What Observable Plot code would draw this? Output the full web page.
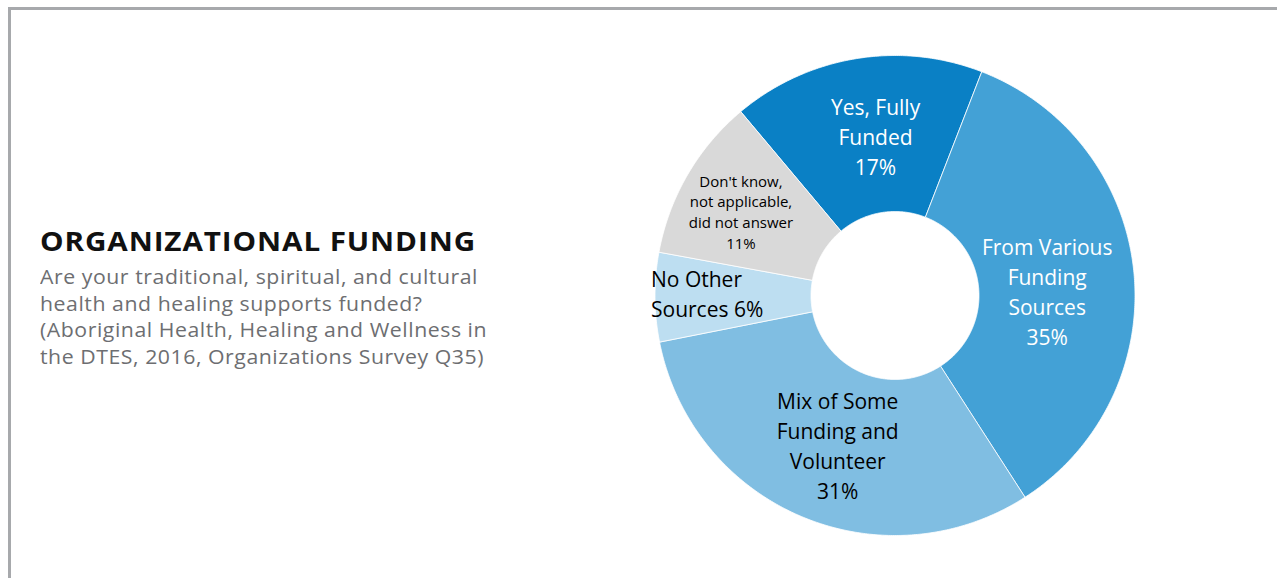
<!DOCTYPE html>
<html>
<head>
<meta charset="utf-8">
<script src="https://cdn.jsdelivr.net/npm/d3@7"></script>
<script src="https://cdn.jsdelivr.net/npm/@observablehq/plot@0.6"></script>
<style>
  html, body { margin: 0; padding: 0; background: #fff; }
  body { width: 1277px; height: 578px; position: relative; overflow: hidden; }
  #frame { position: absolute; left: 8px; top: 7px; width: 1300px; height: 600px;
           border-left: 3px solid #a7a9ac; border-top: 3px solid #a7a9ac; box-sizing: border-box; }
  #chart { position: absolute; left: 0; top: 0; }
  .fit { position: absolute; left: 40px; white-space: nowrap; transform-origin: 0 0; font-family: "Open Sans", sans-serif; }
  .t { font-weight: 700; font-size: 26px; letter-spacing: 0.8px; color: #111; line-height: 30px; }
  .s { font-size: 19.5px; letter-spacing: 0.5px; color: #6d6e71; line-height: 26px; }
</style>
</head>
<body>
<div id="frame"></div>
<div id="chart"></div>
<div id="text"></div>
<script>
// ---- data ----
const categories = ["Yes, Fully Funded", "From Various Funding Sources", "Mix of Some Funding and Volunteer", "No Other Sources", "Don't know, not applicable, did not answer"];
const values = [17, 35, 31, 6, 11];
const labelNames = ["Yes, Fully\nFunded", "From Various\nFunding\nSources", "Mix of Some\nFunding and\nVolunteer", "No Other\nSources", "Don't know,\nnot applicable,\ndid not answer"];
const labelSeps = ["\n", "\n", "\n", " ", "\n"];
const colors = ["#0a80c5", "#43a1d6", "#80bee2", "#bddef1", "#d9d9d9"];
const titleText = "ORGANIZATIONAL FUNDING";
const subtitleLines = [
  "Are your traditional, spiritual, and cultural",
  "health and healing supports funded?",
  "(Aboriginal Health, Healing and Wellness in",
  "the DTES, 2016, Organizations Survey Q35)"
];

// ---- title block (stretched to the reference's wide geometric type) ----
const textBox = document.getElementById("text");
function addLine(txt, cls, top, scale) {
  const el = document.createElement("div");
  el.className = "fit " + cls;
  el.textContent = txt;
  el.style.top = top + "px";
  textBox.appendChild(el);
  el.style.transform = `scaleX(${scale})`;
  return el;
}
{
  const t = addLine(titleText, "t", 226, 1);
  const w = t.getBoundingClientRect().width;
  t.style.transform = `scaleX(${436 / w})`;
  const first = addLine(subtitleLines[0], "s", 264, 1);
  const sw = first.getBoundingClientRect().width;
  const sc = 438 / sw;
  first.style.transform = `scaleX(${sc})`;
  subtitleLines.slice(1).forEach((l, i) => addLine(l, "s", 264 + 26.5 * (i + 1), sc));
}

// ---- geometry (derived from data) ----
const startDeg = -40;          // rotation of first slice
const innerR = 0.35;           // hole radius relative to outer
const total = d3.sum(values);
let acc = 0;
const slices = categories.map((c, i) => {
  const a0 = startDeg + acc / total * 360;
  acc += values[i];
  const a1 = startDeg + acc / total * 360;
  return {cat: c, value: values[i], a0, a1, label: labelNames[i] + labelSeps[i] + values[i] + "%"};
});
const rad = d => d * Math.PI / 180;
const pts = [];
for (const s of slices) {
  const n = Math.max(8, Math.ceil((s.a1 - s.a0) * 2));
  for (let k = 0; k <= n; k++) {
    const a = rad(s.a0 + (s.a1 - s.a0) * k / n);
    pts.push({cat: s.cat, x: Math.sin(a), y: Math.cos(a)});
  }
  for (let k = n; k >= 0; k--) {
    const a = rad(s.a0 + (s.a1 - s.a0) * k / n);
    pts.push({cat: s.cat, x: innerR * Math.sin(a), y: innerR * Math.cos(a)});
  }
  const a = rad(s.a0);
  pts.push({cat: s.cat, x: Math.sin(a), y: Math.cos(a)});
}
const midR = (1 + innerR) / 2;
const labels = slices.map(s => {
  const a = rad((s.a0 + s.a1) / 2);
  return {...s, x: midR * Math.sin(a), y: midR * Math.cos(a)};
});

const font = "'Open Sans', sans-serif";
const big = {x: "x", y: "y", text: "label", fontSize: 21, lineHeight: 1.43, fontFamily: font};
const chart = Plot.plot({
  width: 1277, height: 578,
  marginLeft: 654.5, marginRight: 142.5, marginTop: 55, marginBottom: 43,
  x: {domain: [-1, 1], axis: null},
  y: {domain: [-1, 1], axis: null},
  color: {domain: categories, range: colors},
  style: {background: "transparent", fontFamily: font},
  marks: [
    Plot.line(pts, {x: "x", y: "y", z: "cat", fill: "cat", stroke: "white", strokeWidth: 0.8, curve: "linear"}),
    Plot.text(labels.filter((d, i) => i === 0), {...big, fill: "white", dx: 7}),
    Plot.text(labels.filter((d, i) => i === 1), {...big, fill: "white", dx: -9, dy: 11}),
    Plot.text(labels.filter((d, i) => i === 2), {...big, fill: "black", dx: 6}),
    Plot.text(labels.filter((d, i) => i === 3), {...big, fill: "black", textAnchor: "start", dx: -82, dy: -4}),
    Plot.text(labels.filter((d, i) => i === 4), {x: "x", y: "y", text: "label", fill: "black", fontSize: 15, lineHeight: 1.38, dx: -14, dy: -3, fontFamily: font})
  ]
});
document.getElementById("chart").appendChild(chart);
</script>
</body>
</html>
